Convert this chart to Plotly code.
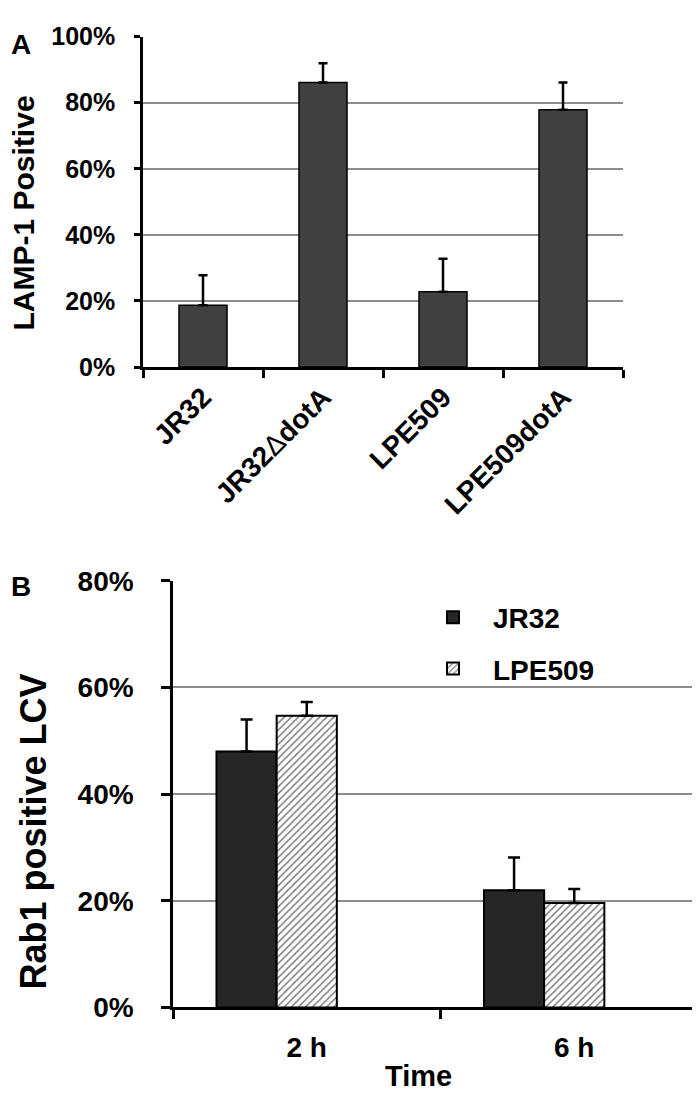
import plotly.graph_objects as go

# ---------------- data ----------------
strains = ["JR32", "JR32<span style='font-weight:normal'>Δ</span>dotA", "LPE509", "LPE509dotA"]
lamp1_pct = [18.7, 86.1, 22.8, 77.9]
lamp1_err = [9.1, 5.8, 10.0, 8.2]

times = ["2 h", "6 h"]
rab1_jr32 = [48.0, 22.0]
rab1_jr32_err = [6.0, 6.1]
rab1_lpe509 = [54.7, 19.6]
rab1_lpe509_err = [2.6, 2.6]

W, H = 700, 1100
FONT = "Arial, Liberation Sans, sans-serif"

def px(x):
    return x / W

def py(y):
    return 1 - y / H

fig = go.Figure()

# Panel A
fig.add_trace(go.Bar(
    x=strains, y=lamp1_pct, width=0.4,
    marker=dict(color="#404040", line=dict(color="black", width=1.5)),
    error_y=dict(type="data", array=lamp1_err, arrayminus=[0] * len(lamp1_err),
                 symmetric=False, color="black", thickness=2.5, width=4.5),
    xaxis="x", yaxis="y", showlegend=False,
))

# Panel B
fig.add_trace(go.Bar(
    name="JR32", x=times, y=rab1_jr32, width=0.225, offset=-0.3375,
    marker=dict(color="#262626", line=dict(color="black", width=2)),
    error_y=dict(type="data", array=rab1_jr32_err, arrayminus=[0, 0],
                 symmetric=False, color="black", thickness=2.5, width=6),
    xaxis="x2", yaxis="y2", legendgroup="a",
))
fig.add_trace(go.Bar(
    name="LPE509", x=times, y=rab1_lpe509, width=0.225, offset=-0.1125,
    marker=dict(color="white", line=dict(color="black", width=2),
                pattern=dict(shape="/", fgcolor="black", bgcolor="white",
                             size=5, solidity=0.3)),
    error_y=dict(type="data", array=rab1_lpe509_err, arrayminus=[0, 0],
                 symmetric=False, color="black", thickness=2.5, width=6),
    xaxis="x2", yaxis="y2", legendgroup="b",
))

axis_common = dict(showline=True, linecolor="black", linewidth=2.5,
                   ticks="outside", tickcolor="black", tickwidth=2.5,
                   zeroline=False)

fig.update_layout(
    width=W, height=H,
    margin=dict(l=0, r=0, t=0, b=0),
    paper_bgcolor="white", plot_bgcolor="white",
    font=dict(family=FONT, color="black"),
    barmode="overlay",
    xaxis=dict(domain=[px(135), px(615)], anchor="y", type="category",
               tickson="boundaries", ticklen=8, tickangle=-45,
               tickfont=dict(size=28, family=FONT, weight="bold"),
               showgrid=False, **axis_common),
    yaxis=dict(domain=[py(354), py(14)], anchor="x", range=[0, 100],
               dtick=20, ticksuffix="%", ticklen=6, ticklabelstandoff=14,
               tickfont=dict(size=25, family=FONT, weight="bold"),
               showgrid=True, gridcolor="#8c8c8c", gridwidth=1.5,
               **axis_common),
    xaxis2=dict(domain=[px(165), 1.0], anchor="y2", type="category",
                tickson="boundaries", ticklen=9,
                tickfont=dict(size=28, family=FONT, weight="bold"),
                ticklabelstandoff=13,
                showgrid=False, **axis_common),
    yaxis2=dict(domain=[py(1013), py(574)], anchor="x2", range=[0, 80],
                dtick=20, ticksuffix="%", ticklen=9, ticklabelstandoff=22,
                tickfont=dict(size=28, family=FONT, weight="bold"),
                showgrid=True, gridcolor="#8c8c8c", gridwidth=1.5,
                **axis_common),
    legend=dict(x=px(405), y=py(586), xanchor="left", yanchor="top",
                font=dict(size=28, family=FONT, weight="bold"),
                itemwidth=70, traceorder="grouped", tracegroupgap=12,
                bgcolor="rgba(0,0,0,0)"),
    annotations=[
        dict(text="<b>A</b>", x=px(1), y=py(4), xref="paper", yref="paper",
             xanchor="left", yanchor="top", showarrow=False,
             font=dict(size=28, family=FONT)),
        dict(text="<b>B</b>", x=px(1), y=py(562), xref="paper", yref="paper",
             xanchor="left", yanchor="top", showarrow=False,
             font=dict(size=28, family=FONT)),
        dict(text="<b>LAMP-1 Positive</b>", x=px(15), y=py(196),
             xref="paper", yref="paper", textangle=-90, showarrow=False,
             xanchor="center", yanchor="middle",
             font=dict(size=30, family=FONT)),
        dict(text="<b>Rab1 positive LCV</b>", x=px(26), y=py(832),
             xref="paper", yref="paper", textangle=-90, showarrow=False,
             xanchor="center", yanchor="middle",
             font=dict(size=36, family=FONT)),
        dict(text="<b>Time</b>", x=px(410), y=py(1084),
             xref="paper", yref="paper", showarrow=False,
             xanchor="center", yanchor="middle",
             font=dict(size=29, family=FONT)),
    ],
)

fig.write_html("out.html")
